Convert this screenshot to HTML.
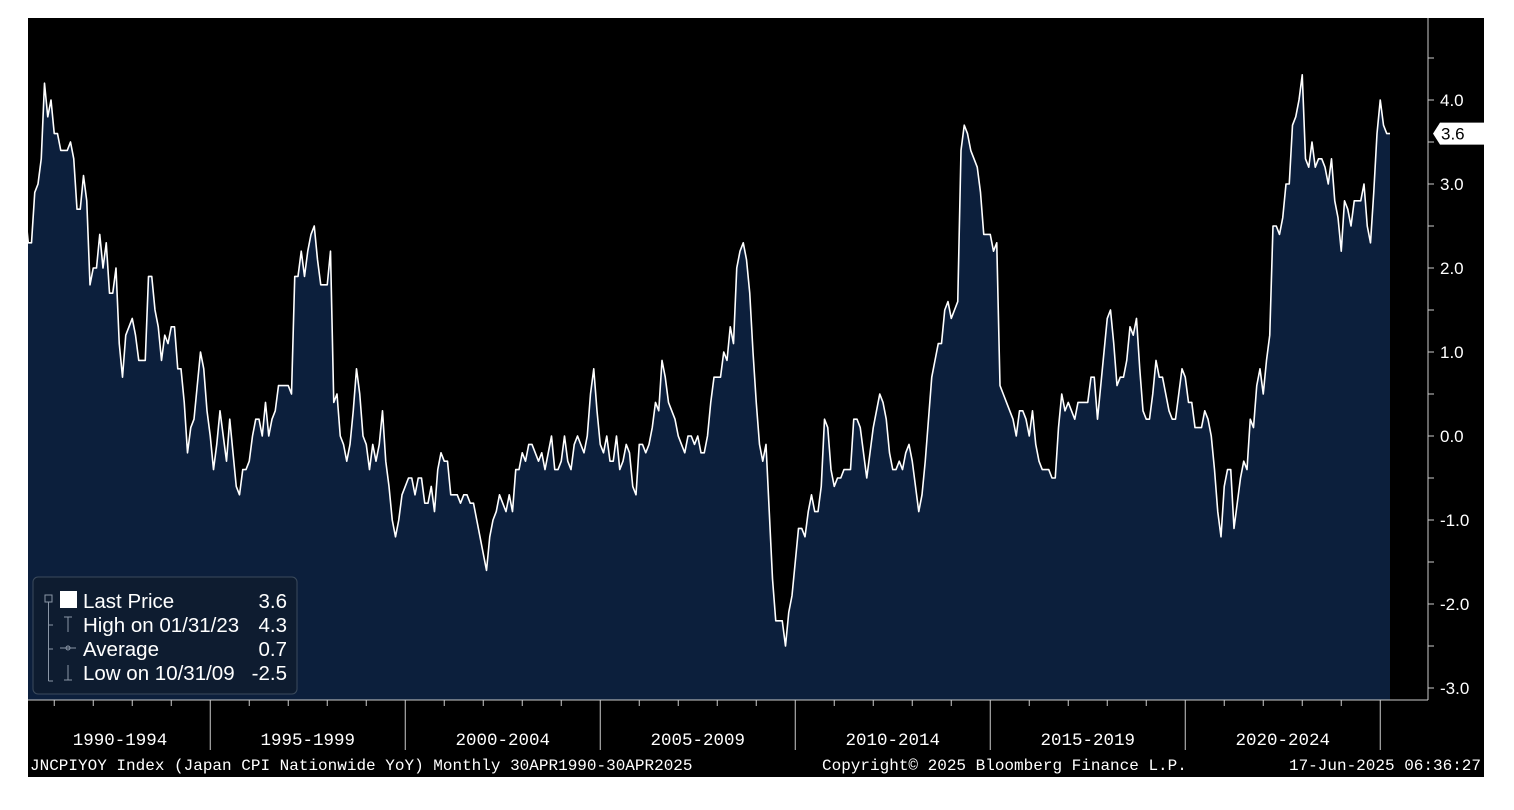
<!DOCTYPE html>
<html><head><meta charset="utf-8"><style>
body{margin:0;background:#fff;width:1514px;height:810px;overflow:hidden;}
svg{position:absolute;left:0;top:0;}
</style></head><body>
<svg width="1514" height="810" xmlns="http://www.w3.org/2000/svg">
<defs><clipPath id="pc"><rect x="28" y="18" width="1400" height="682"/></clipPath></defs>
<rect x="28" y="18" width="1456" height="759" fill="#000"/>
<g id="plot" clip-path="url(#pc)"></g>
<g id="yaxis"></g>
<g id="xaxis"></g>
<g font-family="Liberation Sans, sans-serif" font-size="20.5" fill="#fff">
<rect x="33" y="577" width="264" height="117" rx="5" fill="#0e1c30" stroke="#3b4a5c"/>
<g stroke="#8a96a6" fill="none" stroke-width="1">
<rect x="45" y="595" width="7" height="7"/>
<line x1="48.5" y1="602" x2="48.5" y2="681"/>
<line x1="48.5" y1="625" x2="53" y2="625"/><line x1="48.5" y1="649" x2="53" y2="649"/><line x1="48.5" y1="681" x2="53" y2="681"/>
<line x1="64" y1="617" x2="72" y2="617"/><line x1="68" y1="617" x2="68" y2="632"/>
<line x1="60" y1="648" x2="76" y2="648"/><circle cx="68" cy="648" r="2"/>
<line x1="68" y1="665" x2="68" y2="680"/><line x1="64" y1="680" x2="72" y2="680"/>
</g>
<rect x="60" y="591" width="17" height="17" fill="#fff"/>
<text x="83" y="608">Last Price</text>
<text x="287" y="608" text-anchor="end">3.6</text>
<text x="83" y="632">High on 01/31/23</text>
<text x="287" y="632" text-anchor="end">4.3</text>
<text x="83" y="656">Average</text>
<text x="287" y="656" text-anchor="end">0.7</text>
<text x="83" y="680">Low on 10/31/09</text>
<text x="287" y="680" text-anchor="end">-2.5</text>
</g>
<g font-family="Liberation Mono, monospace" font-size="16" fill="#fff">
<text x="30" y="770">JNCPIYOY Index (Japan CPI Nationwide YoY)  Monthly 30APR1990-30APR2025</text>
<text x="822" y="770">Copyright© 2025 Bloomberg Finance L.P.</text>
<text x="1481" y="770" text-anchor="end">17-Jun-2025 06:36:27</text>
</g>
</svg>
<script>
const startLabel = "1990-04";
const values = [
2.7,2.3,2.3,2.9,3.0,3.3,4.2,3.8,4.0,
3.6,3.6,3.4,3.4,3.4,3.5,3.3,2.7,2.7,3.1,2.8,1.8,
2.0,2.0,2.4,2.0,2.3,1.7,1.7,2.0,1.1,0.7,1.2,1.3,
1.4,1.2,0.9,0.9,0.9,1.9,1.9,1.5,1.3,0.9,1.2,1.1,
1.3,1.3,0.8,0.8,0.4,-0.2,0.1,0.2,0.6,1.0,0.8,0.3,
0.0,-0.4,-0.1,0.3,0.0,-0.3,0.2,-0.2,-0.6,-0.7,-0.4,-0.4,
-0.3,0.0,0.2,0.2,0.0,0.4,0.0,0.2,0.3,0.6,0.6,0.6,
0.6,0.5,1.9,1.9,2.2,1.9,2.2,2.4,2.5,2.1,1.8,1.8,
1.8,2.2,0.4,0.5,0.0,-0.1,-0.3,-0.1,0.3,0.8,0.5,0.0,
-0.1,-0.4,-0.1,-0.3,-0.1,0.3,-0.3,-0.6,-1.0,-1.2,-1.0,-0.7,
-0.6,-0.5,-0.5,-0.7,-0.5,-0.5,-0.8,-0.8,-0.6,-0.9,-0.4,-0.2,
-0.3,-0.3,-0.7,-0.7,-0.7,-0.8,-0.7,-0.7,-0.8,-0.8,-1.0,-1.2,
-1.4,-1.6,-1.2,-1.0,-0.9,-0.7,-0.8,-0.9,-0.7,-0.9,-0.4,-0.4,
-0.2,-0.3,-0.1,-0.1,-0.2,-0.3,-0.2,-0.4,-0.2,0.0,-0.4,-0.4,
-0.3,0.0,-0.3,-0.4,-0.1,0.0,-0.1,-0.2,0.0,0.5,0.8,0.3,
-0.1,-0.2,0.0,-0.3,-0.3,0.0,-0.4,-0.3,-0.1,-0.2,-0.6,-0.7,
-0.1,-0.1,-0.2,-0.1,0.1,0.4,0.3,0.9,0.7,0.4,0.3,0.2,
0.0,-0.1,-0.2,0.0,0.0,-0.1,0.0,-0.2,-0.2,0.0,0.4,0.7,
0.7,0.7,1.0,0.9,1.3,1.1,2.0,2.2,2.3,2.1,1.7,1.0,
0.4,-0.1,-0.3,-0.1,-0.9,-1.7,-2.2,-2.2,-2.2,-2.5,-2.1,-1.9,
-1.5,-1.1,-1.1,-1.2,-0.9,-0.7,-0.9,-0.9,-0.6,0.2,0.1,-0.4,
-0.6,-0.5,-0.5,-0.4,-0.4,-0.4,0.2,0.2,0.1,-0.2,-0.5,-0.2,
0.1,0.3,0.5,0.4,0.2,-0.2,-0.4,-0.4,-0.3,-0.4,-0.2,-0.1,
-0.3,-0.6,-0.9,-0.7,-0.3,0.2,0.7,0.9,1.1,1.1,1.5,1.6,
1.4,1.5,1.6,3.4,3.7,3.6,3.4,3.3,3.2,2.9,2.4,2.4,
2.4,2.2,2.3,0.6,0.5,0.4,0.3,0.2,0.0,0.3,0.3,0.2,
0.0,0.3,-0.1,-0.3,-0.4,-0.4,-0.4,-0.5,-0.5,0.1,0.5,0.3,
0.4,0.3,0.2,0.4,0.4,0.4,0.4,0.7,0.7,0.2,0.6,1.0,
1.4,1.5,1.1,0.6,0.7,0.7,0.9,1.3,1.2,1.4,0.8,0.3,
0.2,0.2,0.5,0.9,0.7,0.7,0.5,0.3,0.2,0.2,0.5,0.8,
0.7,0.4,0.4,0.1,0.1,0.1,0.3,0.2,0.0,-0.4,-0.9,-1.2,
-0.6,-0.4,-0.4,-1.1,-0.8,-0.5,-0.3,-0.4,0.2,0.1,0.6,0.8,
0.5,0.9,1.2,2.5,2.5,2.4,2.6,3.0,3.0,3.7,3.8,4.0,
4.3,3.3,3.2,3.5,3.2,3.3,3.3,3.2,3.0,3.3,2.8,2.6,
2.2,2.8,2.7,2.5,2.8,2.8,2.8,3.0,2.5,2.3,2.9,3.6,
4.0,3.7,3.6,3.6
];
const yTicks = [4.0,3.0,2.0,1.0,0.0,-1.0,-2.0,-3.0];
const periodLabels = ["1990-1994","1995-1999","2000-2004","2005-2009","2010-2014","2015-2019","2020-2024"];
const lastValue = 3.6;

const NS="http://www.w3.org/2000/svg";
const X0=25, PXM=3.25;
const yS=v=>436-v*84;
const xS=i=>X0+i*PXM;
const xYear=y=>X0+((y-1990)*12-3)*PXM;
function mk(t,a,p){const e=document.createElementNS(NS,t);for(const k in a)e.setAttribute(k,a[k]);p.appendChild(e);return e;}
const plot=document.getElementById('plot');
let pts=values.map((v,i)=>xS(i).toFixed(2)+","+yS(v).toFixed(2));
const lastX=xS(values.length-1);
const area=mk('path',{d:"M"+X0+",700 L"+pts.join(" L")+" L"+lastX+",700 Z",fill:"#0c1f3c"},plot);


const line=mk('polyline',{points:pts.join(" "),fill:"none",stroke:"#fff","stroke-width":1.6,"stroke-linejoin":"round"},plot);



const ya=document.getElementById('yaxis');
mk('line',{x1:1428,y1:18,x2:1428,y2:700,stroke:"#ccc","stroke-width":1},ya);
for(let v=-3;v<=4.5;v+=0.5){mk('line',{x1:1428,y1:yS(v),x2:1434,y2:yS(v),stroke:"#ccc"},ya);}
yTicks.forEach(v=>{
 const t=mk('text',{x:1440,y:yS(v)+6,fill:"#fff","font-family":"Liberation Sans, sans-serif","font-size":17},ya);
 t.textContent=v.toFixed(1);
 
 
});
const ly=yS(lastValue);
const tag=mk('path',{d:`M1433,${ly} L1440,${ly-11} L1484,${ly-11} L1484,${ly+11} L1440,${ly+11} Z`,fill:"#fff"},ya);


const tt=mk('text',{x:1441,y:ly+6,fill:"#000","font-family":"Liberation Sans, sans-serif","font-size":17},ya);
tt.textContent=lastValue.toFixed(1);

const xa=document.getElementById('xaxis');
mk('line',{x1:28,y1:700,x2:1428,y2:700,stroke:"#ccc"},xa);
for(let y=1991;y<=2025;y++){
 const x=xYear(y);
 if(y%5===0) mk('line',{x1:x,y1:700,x2:x,y2:750,stroke:"#ccc"},xa);
 else mk('line',{x1:x,y1:700,x2:x,y2:706,stroke:"#ccc"},xa);
}
periodLabels.forEach((l,k)=>{
 const y0=1990+k*5;
 const cx=(Math.max(X0,xYear(y0))+xYear(y0+5))/2;
 const t=mk('text',{x:k===0?120:cx,y:745,fill:"#fff","text-anchor":"middle","font-family":"Liberation Mono, monospace","font-size":17.5},xa);
 t.textContent=l;
 
 
});
</script>
</body></html>
